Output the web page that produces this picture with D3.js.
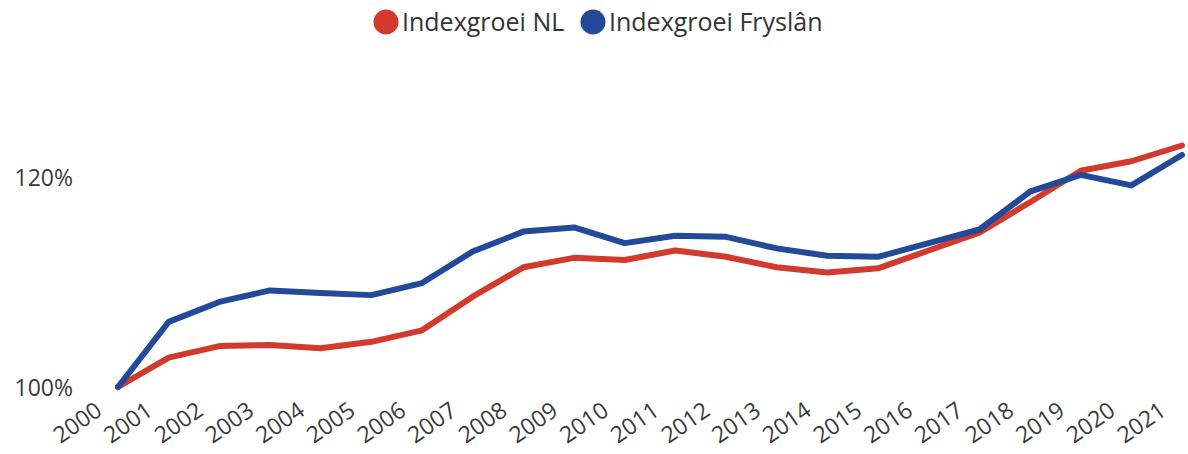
<!DOCTYPE html>
<html>
<head>
<meta charset="utf-8">
<script src="https://cdn.jsdelivr.net/npm/d3@7"></script>
<style>
  body { margin: 0; background: #fff; }
  svg text { font-family: "Open Sans", "Noto Sans", sans-serif; }
</style>
</head>
<body>
<div id="chart"></div>
<script>
// Data
const years = ["2000","2001","2002","2003","2004","2005","2006","2007","2008","2009","2010",
               "2011","2012","2013","2014","2015","2016","2017","2018","2019","2020","2021"];
const indexNL = [100, 102.8, 103.9, 104.0, 103.7, 104.3, 105.4, 108.6, 111.4, 112.3, 112.1,
                 113.0, 112.4, 111.4, 110.9, 111.3, 113.0, 114.7, 117.6, 120.6, 121.5, 123.0];
const indexFryslan = [100, 106.2, 108.1, 109.2, 108.95, 108.75, 109.9, 112.9, 114.8, 115.2, 113.7,
                      114.4, 114.3, 113.2, 112.5, 112.4, 113.7, 115.0, 118.6, 120.2, 119.2, 122.1];
const yTicks = [100, 120];

const seriesNames = ["Indexgroei NL", "Indexgroei Fryslân"];
const colors = ["#D13A2C", "#234A98"];

const width = 1188;
const height = 454;

const svg = d3.select("#chart")
    .append("svg")
    .attr("width", width)
    .attr("height", height);

// Scales
const x = d3.scalePoint()
    .domain(years)
    .range([118, 1182]);

const y = d3.scaleLinear()
    .domain([100, 120])
    .range([387, 177]);

// Y axis (labels only)
const yAxis = svg.append("g")
    .attr("transform", "translate(73, 0)")
    .call(d3.axisLeft(y).tickValues(yTicks).tickSize(0).tickFormat(d => d + "%"));
yAxis.select(".domain").remove();
yAxis.selectAll("text")
    .attr("x", 0)
    .attr("dy", "0.35em")
    .style("font-size", "23px")
    .style("fill", "#3a3a3a");

// X axis (rotated labels)
const xAxis = svg.append("g")
    .call(d3.axisBottom(x).tickSize(0));
xAxis.select(".domain").remove();
xAxis.selectAll(".tick text")
    .attr("y", 0)
    .attr("dy", 0)
    .attr("text-anchor", "end")
    .attr("transform", "translate(-15, 414) rotate(-35)")
    .style("font-size", "23px")
    .style("fill", "#3a3a3a");

// Lines
const line = d3.line()
    .x((d, i) => x(years[i]))
    .y(d => y(d));

[indexNL, indexFryslan].forEach((values, i) => {
    svg.append("path")
        .datum(values)
        .attr("fill", "none")
        .attr("stroke", colors[i])
        .attr("stroke-width", 6)
        .attr("stroke-linejoin", "round")
        .attr("stroke-linecap", "round")
        .attr("d", line);
});

// Legend
const legendX = [386, 593];
seriesNames.forEach((name, i) => {
    const g = svg.append("g").attr("transform", `translate(${legendX[i]}, 22)`);
    g.append("circle")
        .attr("r", 12.5)
        .attr("fill", colors[i]);
    g.append("text")
        .attr("x", 16)
        .attr("dy", "0.35em")
        .style("font-size", "25px")
        .style("fill", "#333")
        .text(name);
});
</script>
</body>
</html>
